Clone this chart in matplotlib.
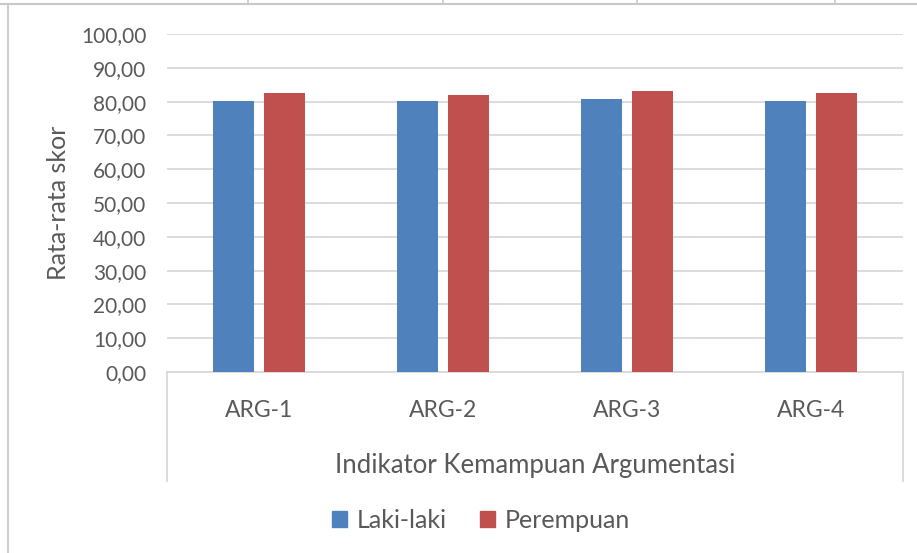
import matplotlib
matplotlib.use('Agg')
import matplotlib.pyplot as plt
from matplotlib.ticker import FuncFormatter
from matplotlib.lines import Line2D
from matplotlib.patches import Patch
import numpy as np

# data
categories = ['ARG-1', 'ARG-2', 'ARG-3', 'ARG-4']
laki_laki = [80.1, 80.1, 80.8, 80.2]
perempuan = [82.5, 81.9, 83.0, 82.5]
series_names = ['Laki-laki', 'Perempuan']

BLUE = '#4F81BD'
RED = '#C0504D'
GRID = '#D9D9D9'
TEXT = '#595959'
FONT = 'Lato'

BAR_WIDTH = 0.22
OFFSET = 0.138


def comma_fmt(v, pos):
    return ('%.2f' % v).replace('.', ',')


def start():
    plt.rcParams['font.family'] = [FONT, 'DejaVu Sans']
    fig = plt.figure(figsize=(9.17, 5.53), dpi=100)
    W, H = 917, 553
    ax = fig.add_axes([167 / W, 1 - 372 / H, 736 / W, 338 / H])

    x = np.arange(len(categories))
    ax.bar(x - OFFSET, laki_laki, BAR_WIDTH, color=BLUE, zorder=3)
    ax.bar(x + OFFSET, perempuan, BAR_WIDTH, color=RED, zorder=3)

    ax.set_xlim(-0.5, len(categories) - 0.5)
    ax.set_ylim(0, 100)
    ax.set_yticks(np.arange(0, 101, 10))
    ax.yaxis.set_major_formatter(FuncFormatter(comma_fmt))
    ax.set_xticks(x)
    ax.set_xticklabels(categories)
    ax.yaxis.grid(True, color=GRID, linewidth=1.3, zorder=0)
    ax.set_axisbelow(True)

    for s in ['top', 'right', 'left']:
        ax.spines[s].set_visible(False)
    ax.spines['bottom'].set_color(GRID)
    ax.spines['bottom'].set_linewidth(1.3)

    ax.tick_params(axis='y', length=0, pad=15, labelsize=15, labelcolor=TEXT)
    ax.tick_params(axis='x', length=0, pad=20, labelsize=16.5, labelcolor=TEXT)

    # category box lines at both ends of the x axis
    for xa in (0, 1):
        ax.plot([xa, xa], [0, -109 / 338], transform=ax.transAxes,
                color=GRID, linewidth=1.3, clip_on=False)

    fig.text(58 / W, 1 - 203 / H, 'Rata-rata skor', rotation=90,
             ha='center', va='center', fontsize=18, color=TEXT)
    fig.text(535 / W, 1 - 466 / H, 'Indikator Kemampuan Argumentasi',
             ha='center', va='center', fontsize=18.5, color=TEXT)

    handles = [Patch(color=BLUE), Patch(color=RED)]
    leg = fig.legend(handles, series_names, loc='center',
                     bbox_to_anchor=(481 / W, 1 - 520 / H), ncol=2,
                     frameon=False, fontsize=18, handlelength=0.6,
                     handleheight=0.6, handletextpad=0.4, columnspacing=1.3)
    for t in leg.get_texts():
        t.set_color(TEXT)

    # chart border and spreadsheet cell lines at the top
    fig.add_artist(Line2D([8 / W, 8 / W], [0, 1 - 5 / H], color='#CFCFCF',
                          linewidth=1.5))
    fig.add_artist(Line2D([0, 1], [1 - 4 / H, 1 - 4 / H], color='#C8C8C8',
                          linewidth=1.5))
    for cx in (248, 443, 637, 835):
        fig.add_artist(Line2D([cx / W, cx / W], [1 - 4 / H, 1], color='#C8C8C8',
                              linewidth=1.2))

    fig.savefig('out.png', dpi=100)


if __name__ == '__main__':
    start()
